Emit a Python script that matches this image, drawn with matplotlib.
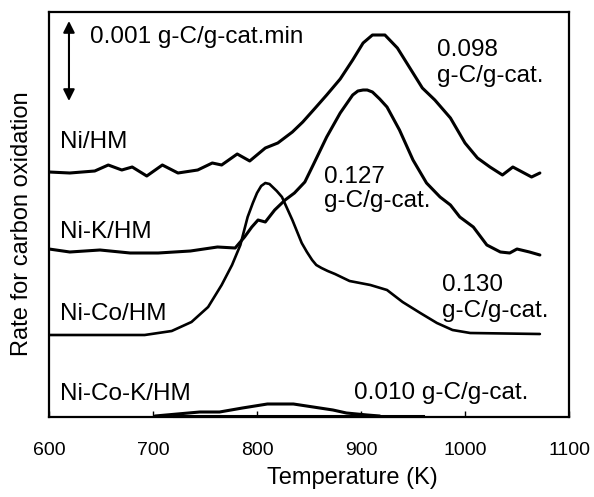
import matplotlib
matplotlib.use("Agg")
import matplotlib.pyplot as plt

plt.rcParams['font.family'] = ['Liberation Sans', 'DejaVu Sans']

# Temperature (K) and signal (arbitrary offset units)
ni_hm_T = [600, 620, 644, 657, 670, 680, 694, 709, 724, 743, 757, 766, 781, 793, 808, 820,
           834, 844, 856, 867, 880, 892, 902, 911, 923, 935, 947, 959, 971, 986, 1000, 1012,
           1024, 1036, 1046, 1055, 1064, 1072]
ni_hm_y = [245, 244, 246, 252, 247, 250, 241, 252, 244, 247, 254, 252, 263, 256, 269, 274,
           285, 295, 309, 322, 338, 357, 374, 382, 382, 369, 349, 329, 317, 299, 274, 259,
           250, 242, 250, 245, 240, 244]

ni_k_T = [600, 620, 649, 678, 705, 736, 762, 779, 788, 795, 801, 808, 817, 827, 836, 846,
          854, 867, 880, 892, 897, 902, 906, 911, 918, 925, 937, 950, 963, 976, 986, 995,
          1008, 1021, 1034, 1043, 1050, 1062, 1072]
ni_k_y = [168, 165, 167, 164, 164, 166, 170, 169, 180, 190, 197, 195, 207, 217, 224, 235,
          252, 280, 304, 322, 326, 327, 327, 325, 318, 310, 287, 257, 234, 220, 212, 200,
          190, 172, 165, 164, 168, 165, 162]

ni_co_T = [600, 649, 692, 718, 737, 753, 766, 776, 784, 791, 796, 800, 804, 808, 812, 815,
           819, 824, 834, 843, 848, 853, 857, 862, 868, 875, 889, 909, 925, 940, 957, 973,
           988, 1005, 1072]
ni_co_y = [82, 82, 82, 86, 95, 110, 132, 152, 172, 200, 214, 224, 231, 234, 233, 230,
           226, 220, 197, 174, 165, 157, 152, 149, 146, 143, 136, 132, 127, 115, 104, 94,
           87, 84, 83]

ni_co_k_T = [702, 745, 764, 786, 810, 835, 854, 873, 886, 906, 918]
ni_co_k_y = [1, 5, 5, 9, 13, 13, 10, 7, 4, 2, 1]
ni_co_k_base_T = [720, 960]
ni_co_k_base_y = [1, 1]

x_ticks = [600, 700, 800, 900, 1000, 1100]

fig = plt.figure(figsize=(5.94, 4.97), dpi=100)
ax = fig.add_axes([49/594, 80/497, 520/594, 405/497])

lw = 2.2
style = dict(color='black', solid_capstyle='round', solid_joinstyle='round')
ax.plot(ni_hm_T, ni_hm_y, lw=lw, **style)
ax.plot(ni_k_T, ni_k_y, lw=lw, **style)
ax.plot(ni_co_T, ni_co_y, lw=1.9, **style)
ax.plot(ni_co_k_T, ni_co_k_y, lw=lw, clip_on=False, **style)
ax.plot(ni_co_k_base_T, ni_co_k_base_y, color='black', lw=lw, clip_on=False)

ax.set_xlim(600, 1100)
ax.set_ylim(0, 405)
ax.set_xticks(x_ticks)
ax.set_xticklabels([str(t) for t in x_ticks], fontsize=14)
ax.tick_params(axis='x', direction='in', length=4, width=1, pad=18)
ax.set_yticks([])
for s in ax.spines.values():
    s.set_linewidth(1.6)

# scale arrow
ax.annotate('', xy=(619.2, 396), xytext=(619.2, 316),
            arrowprops=dict(arrowstyle='<|-|>', color='black', lw=1.5,
                            mutation_scale=17, shrinkA=0, shrinkB=0))
ax.text(639, 380, '0.001 g-C/g-cat.min', fontsize=17.5, va='center', ha='left')

# curve labels
ax.text(611, 275, 'Ni/HM', fontsize=17.5, va='center', ha='left')
ax.text(611, 185, 'Ni-K/HM', fontsize=17.5, va='center', ha='left')
ax.text(611, 103, 'Ni-Co/HM', fontsize=17.5, va='center', ha='left')
ax.text(611, 23, 'Ni-Co-K/HM', fontsize=17.5, va='center', ha='left')

# amounts
ax.text(973, 367, '0.098', fontsize=17.5, va='center', ha='left')
ax.text(973, 341, 'g-C/g-cat.', fontsize=17.5, va='center', ha='left')
ax.text(864, 240, '0.127', fontsize=17.5, va='center', ha='left')
ax.text(864, 216, 'g-C/g-cat.', fontsize=17.5, va='center', ha='left')
ax.text(978, 132, '0.130', fontsize=17.5, va='center', ha='left')
ax.text(978, 106, 'g-C/g-cat.', fontsize=17.5, va='center', ha='left')
ax.text(893, 24, '0.010 g-C/g-cat.', fontsize=17.5, va='center', ha='left')

fig.text(352/594, 1 - 478/497, 'Temperature (K)', fontsize=17, ha='center', va='center')
fig.text(22/594, 1 - 224/497, 'Rate for carbon oxidation', fontsize=17, ha='center', va='center',
         rotation=90)

fig.savefig('out.png', dpi=100)
